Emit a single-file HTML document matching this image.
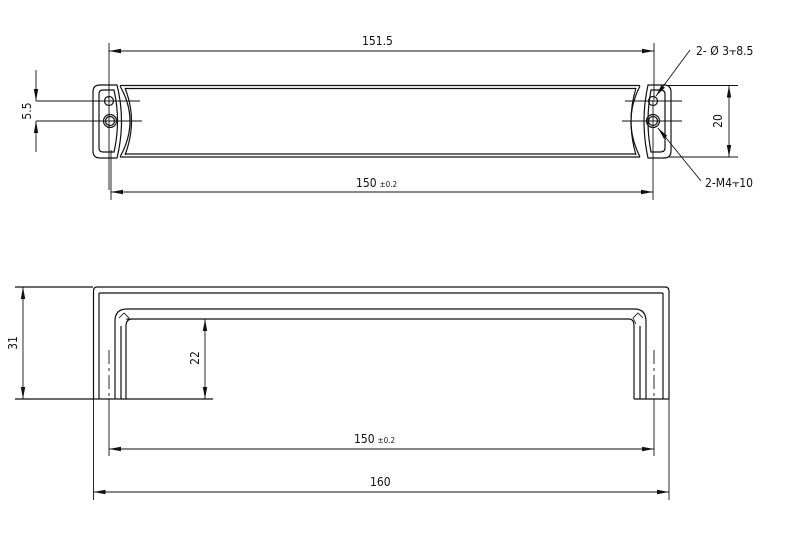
<!DOCTYPE html>
<html><head><style>html,body{margin:0;padding:0;background:#fff}svg{display:block}
text{font-family:"DejaVu Sans Condensed","Liberation Sans",sans-serif;font-size:12px;fill:#111}</style></head>
<body>
<svg width="800" height="533" viewBox="0 0 800 533" xmlns="http://www.w3.org/2000/svg">
<defs>
<marker id="a" markerWidth="12" markerHeight="6" refX="12" refY="3" orient="auto" markerUnits="userSpaceOnUse"><path d="M0,0.8 L12,3 L0,5.2z" fill="#111"/></marker>
</defs>
<g stroke="#111" stroke-width="1.2" fill="none">
<!-- TOP VIEW -->
<line x1="120" y1="85.5" x2="640" y2="85.5"/><line x1="125" y1="88.5" x2="636" y2="88.5"/>
<line x1="125" y1="154" x2="636" y2="154"/><line x1="120" y1="157" x2="640" y2="157"/>
<path d="M100,85 H117 Q126,121 117,158 H100 Q93,158 93,151 V92 Q93,85 100,85Z"/>
<path d="M103,90 H114 Q121,121 114,152 H103 Q99,152 99,148 V94 Q99,90 103,90Z"/>
<path d="M120,86 Q140,121 120,157"/><path d="M125,88 Q138,121 125,155"/>
<circle cx="109" cy="101" r="4.5"/><circle cx="110" cy="121" r="6.5"/><circle cx="110" cy="121" r="4.5"/>
<path d="M664,85 H648 Q640,121 648,158 H664 Q671,158 671,151 V92 Q671,85 664,85Z"/>
<path d="M660,90 H651 Q645,121 651,152 H660 Q665,152 665,148 V94 Q665,90 660,90Z"/>
<path d="M640,86 Q622,121 640,157"/><path d="M636,88 Q626,121 636,155"/>
<circle cx="653" cy="101" r="4.5"/><circle cx="653" cy="121" r="6.5"/><circle cx="653" cy="121" r="4.5"/>
<g stroke-width="0.9">
<line x1="36" y1="101" x2="140" y2="101"/><line x1="36" y1="121" x2="142" y2="121"/>
<line x1="625" y1="101" x2="682" y2="101"/><line x1="622" y1="121" x2="682" y2="121"/>
<line x1="109" y1="43" x2="109" y2="190"/><line x1="111" y1="150" x2="111" y2="200"/>
<line x1="654" y1="43" x2="654" y2="100"/><line x1="653" y1="100" x2="653" y2="200"/>
<line x1="36" y1="70" x2="36" y2="101" marker-end="url(#a)"/><line x1="36" y1="152" x2="36" y2="121" marker-end="url(#a)"/>
<line x1="381" y1="51" x2="109" y2="51" marker-end="url(#a)"/><line x1="381" y1="51" x2="654" y2="51" marker-end="url(#a)"/>
<line x1="381" y1="192" x2="111" y2="192" marker-end="url(#a)"/><line x1="381" y1="192" x2="653" y2="192" marker-end="url(#a)"/>
<line x1="668" y1="85.5" x2="738" y2="85.5"/><line x1="668" y1="157" x2="738" y2="157"/>
<line x1="729" y1="121" x2="729" y2="85.5" marker-end="url(#a)"/><line x1="729" y1="121" x2="729" y2="157" marker-end="url(#a)"/>
<line x1="690" y1="50" x2="656" y2="96" marker-end="url(#a)"/>
<line x1="701" y1="181" x2="658" y2="128" marker-end="url(#a)"/>
</g>
<!-- FRONT VIEW -->
<path d="M93.5,399 V291 Q93.5,287 97,287 H665 Q669,287 669,291 V399"/>
<line x1="99" y1="293" x2="99" y2="399"/><line x1="99" y1="293" x2="663" y2="293"/><line x1="663" y1="293" x2="663" y2="399"/>
<path d="M115,399 V321 Q115,309 127,309 H634 Q646,309 646,321 V399"/>
<path d="M121,399 V326 M640,399 V326"/>
<path d="M126,399 V326 Q126,319 132,319 H629 Q634,319 634,326 V399"/>
<path d="M119,318 L124,313 L129,318 L126,324 M643,318 L638,313 L633,318 L636,324" stroke-width="0.8"/>
<line x1="15" y1="287" x2="93" y2="287"/>
<line x1="15" y1="399" x2="213" y2="399"/><line x1="634" y1="399" x2="669" y2="399"/>
<g stroke-width="0.9">
<line x1="109" y1="350" x2="109" y2="399" stroke-dasharray="14,4,3,4"/>
<line x1="654" y1="350" x2="654" y2="399" stroke-dasharray="14,4,3,4"/>
<line x1="109" y1="399" x2="109" y2="456"/><line x1="654" y1="399" x2="654" y2="456"/>
<line x1="93.5" y1="399" x2="93.5" y2="500"/><line x1="669" y1="399" x2="669" y2="500"/>
<line x1="126" y1="319" x2="213" y2="319"/>
<line x1="23" y1="343" x2="23" y2="287" marker-end="url(#a)"/><line x1="23" y1="343" x2="23" y2="399" marker-end="url(#a)"/>
<line x1="205" y1="358" x2="205" y2="319" marker-end="url(#a)"/><line x1="205" y1="358" x2="205" y2="399" marker-end="url(#a)"/>
<line x1="381" y1="449" x2="109" y2="449" marker-end="url(#a)"/><line x1="381" y1="449" x2="654" y2="449" marker-end="url(#a)"/>
<line x1="381" y1="492" x2="93.5" y2="492" marker-end="url(#a)"/><line x1="381" y1="492" x2="669" y2="492" marker-end="url(#a)"/>
</g>
</g>
<text x="362" y="45">151.5</text>
<text x="356" y="187">150<tspan font-size="8" dx="3">±0.2</tspan></text>
<text x="354" y="443">150<tspan font-size="8" dx="3">±0.2</tspan></text>
<text x="370" y="486">160</text>
<text transform="translate(31,111) rotate(-90)" text-anchor="middle">5.5</text>
<text transform="translate(722,121) rotate(-90)" text-anchor="middle">20</text>
<text transform="translate(17,343) rotate(-90)" text-anchor="middle">31</text>
<text transform="translate(199,358) rotate(-90)" text-anchor="middle">22</text>
<text x="696" y="55">2- Ø 3⫟8.5</text>
<text x="705" y="187">2-M4⫟10</text>
</svg>
</body></html>
